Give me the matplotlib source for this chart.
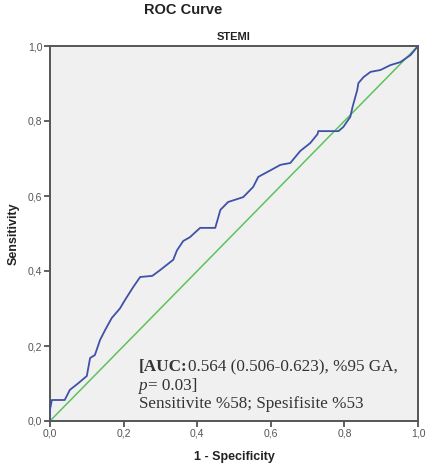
import matplotlib
matplotlib.use("Agg")
import matplotlib.pyplot as plt

plt.rcParams['font.family'] = ['Liberation Sans', 'DejaVu Sans']

# ROC curve points (1 - specificity, sensitivity)
fpr = [0.0, 0.0, 0.005, 0.04, 0.054, 0.076, 0.10, 0.109, 0.122, 0.136, 0.15,
       0.168, 0.19, 0.204, 0.226, 0.245, 0.278, 0.30, 0.335, 0.345, 0.362,
       0.38, 0.408, 0.449, 0.463, 0.484, 0.525, 0.552, 0.566, 0.60, 0.626,
       0.653, 0.68, 0.707, 0.727, 0.729, 0.784, 0.797, 0.816, 0.822, 0.835,
       0.838, 0.852, 0.871, 0.898, 0.925, 0.952, 0.98, 1.0]
tpr = [0.0, 0.03, 0.056, 0.056, 0.083, 0.10, 0.12, 0.168, 0.176, 0.216, 0.243,
       0.275, 0.30, 0.323, 0.357, 0.384, 0.387, 0.403, 0.43, 0.455, 0.48,
       0.49, 0.515, 0.515, 0.563, 0.584, 0.597, 0.624, 0.651, 0.669, 0.683,
       0.688, 0.72, 0.741, 0.765, 0.773, 0.773, 0.784, 0.811, 0.837, 0.883,
       0.901, 0.917, 0.931, 0.936, 0.949, 0.957, 0.976, 1.0]
ref_line = [0.0, 1.0]
ticks = [0.0, 0.2, 0.4, 0.6, 0.8, 1.0]
tick_labels = ["0,0", "0,2", "0,4", "0,6", "0,8", "1,0"]

fig = plt.figure(figsize=(4.26, 4.72), dpi=100)
fig.patch.set_facecolor('white')
ax = fig.add_axes([50/426, 51/472, 368/426, 375/472])
ax.set_facecolor('#f0f0f0')

ax.plot(ref_line, ref_line, color='#5cc35c', lw=1.1, zorder=2)
ax.plot(fpr, tpr, color='#3f51a8', lw=1.3, zorder=3)

ax.set_xlim(0, 1)
ax.set_ylim(0, 1)
ax.set_xticks(ticks)
ax.set_xticklabels(tick_labels)
ax.set_yticks(ticks)
ax.set_yticklabels(tick_labels)
ax.tick_params(direction='out', length=4, width=1.2, colors='#444444',
               labelsize=7.5, labelcolor='#555555', pad=1.5)
for s in ax.spines.values():
    s.set_color('#555555')
    s.set_linewidth(1.4)

ax.set_xlabel('1 - Specificity', fontsize=9, fontweight='bold', color='#222222', labelpad=9)
ax.set_ylabel('Sensitivity', fontsize=9, fontweight='bold', color='#222222', labelpad=6)
ax.set_title('STEMI', fontsize=8, fontweight='bold', color='#222222', pad=4)
fig.text(183/426, 1 - 10/472, 'ROC Curve', fontsize=10.5, fontweight='bold',
         color='#222222', ha='center', va='center')

tx = (139 - 50) / 368
fs = 12.3
kw = dict(fontsize=fs, color='#333333', va='bottom', family='Liberation Serif')
t1 = ax.text(tx, (421 - 375) / 375, '[AUC:', transform=ax.transAxes,
             fontweight='bold', **kw)
ax.annotate('0.564 (0.506-0.623), %95 GA,', xy=(1, 0), xycoords=t1, **kw)
t2 = ax.text(tx, (421 - 394) / 375, 'p', transform=ax.transAxes,
             fontstyle='italic', **kw)
ax.annotate('= 0.03]', xy=(1, 0), xycoords=t2, **kw)
ax.text(tx, (421 - 412) / 375, 'Sensitivite %58; Spesifisite %53',
        transform=ax.transAxes, **kw)

fig.savefig('out.png', dpi=100)
